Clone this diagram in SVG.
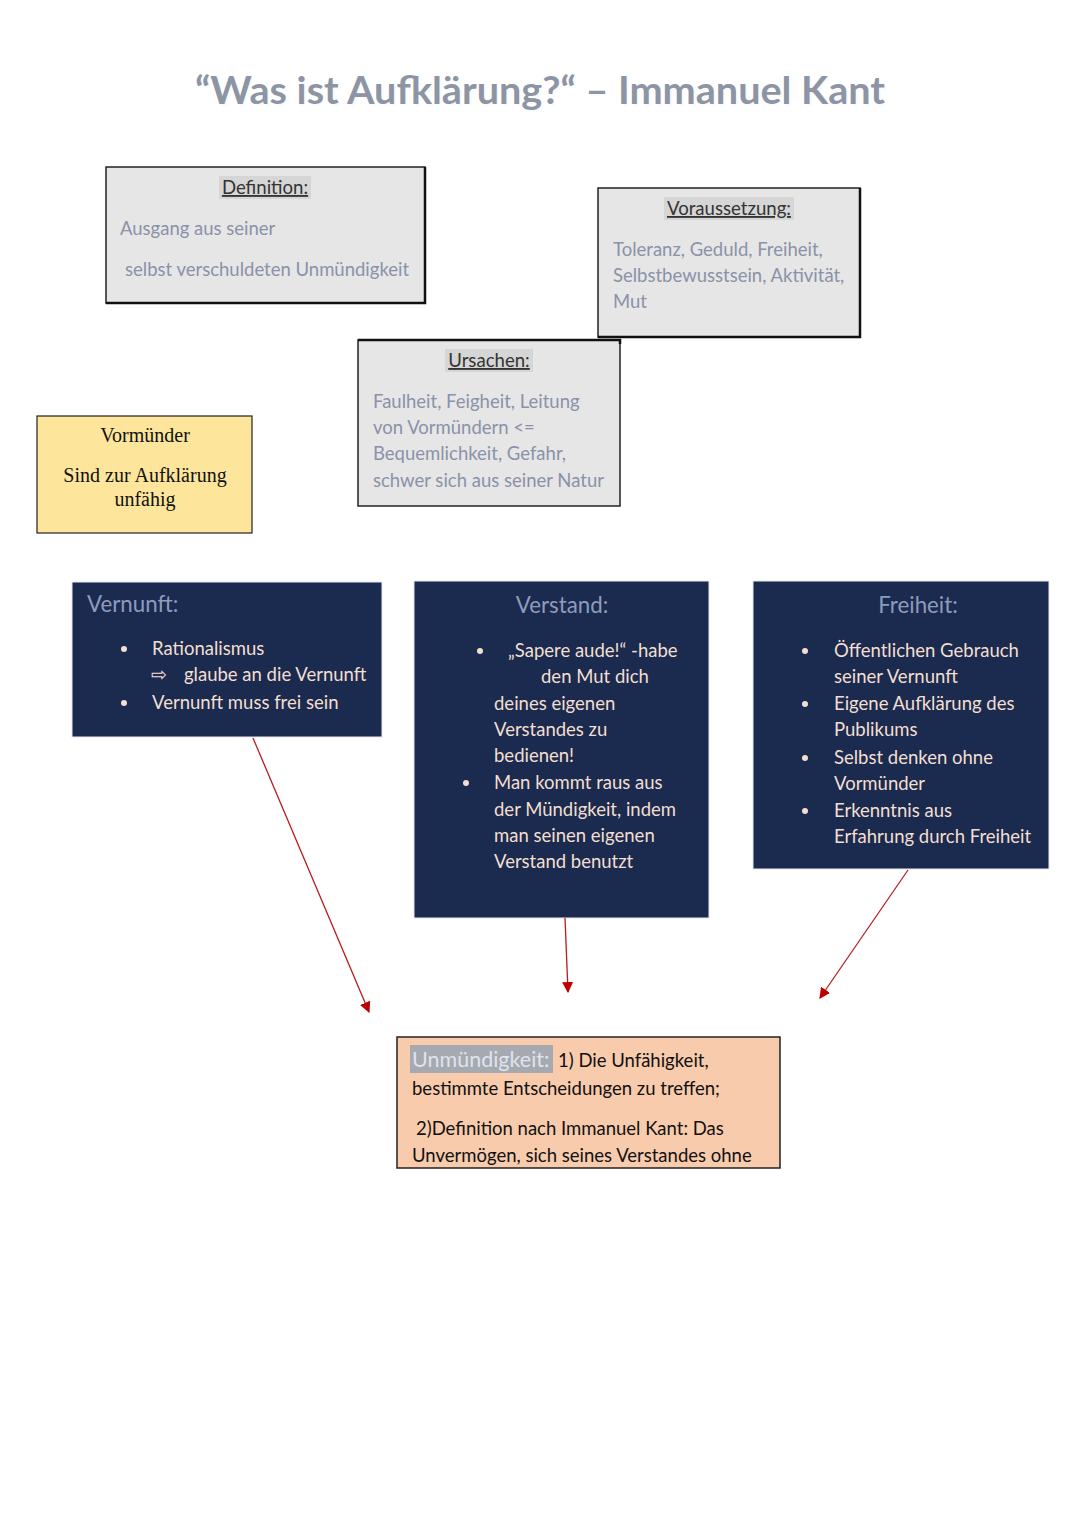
<svg xmlns="http://www.w3.org/2000/svg" width="1080" height="1527" viewBox="0 0 1080 1527">
<defs>
<style>
.sans{font-family:Lato,"Open Sans","Noto Sans",sans-serif}
.serif{font-family:"Liberation Serif","DejaVu Serif",serif}
.gbox{fill:#e6e6e6;stroke:#222;stroke-width:1.5}
.gshadow{fill:none;stroke:#111;stroke-width:2.5}
.head{font-size:18.6px;fill:#333;text-decoration:underline}
.hbg{fill:#d6d6d6}
.gtxt{font-size:18.5px;fill:#8a92a8}
.dbox{fill:#1b2a4f;stroke:#e8e8ef;stroke-width:1}
.dtitle{font-size:22.3px;fill:#8d9cbd}
.dtxt{font-size:18.5px;fill:#f2dfcf}
.bul{fill:#f2dfcf}
.arrow{stroke:#b81c1c;stroke-width:1.3;fill:none;marker-end:url(#ah)}
.otxt{font-size:18.5px;fill:#111}
</style>
<marker id="ah" viewBox="0 0 10 10" refX="9" refY="5" markerWidth="11" markerHeight="11" markerUnits="userSpaceOnUse" orient="auto">
<path d="M0,0 L10,5 L0,10 z" fill="#c00000"/>
</marker>
<clipPath id="uclip"><rect x="398" y="1038" width="381" height="129"/></clipPath>
</defs>
<rect width="1080" height="1527" fill="#ffffff"/>

<g id="title">
<text x="541" y="105" text-anchor="middle" class="sans" font-size="38" font-weight="bold" fill="#fbfbfd" textLength="690" lengthAdjust="spacingAndGlyphs" transform="translate(1,1)">“Was ist Aufklärung?“ – Immanuel Kant</text>
<text x="540" y="104" text-anchor="middle" class="sans" font-size="38" font-weight="bold" fill="#8d95a5" textLength="690" lengthAdjust="spacingAndGlyphs">“Was ist Aufklärung?“ – Immanuel Kant</text>
</g>

<g id="definition">
<rect x="106" y="167" width="319" height="136" class="gbox"/>
<path d="M106,303 H425 V167" class="gshadow"/>
<rect x="219" y="176" width="92" height="23" class="hbg"/>
<text x="265" y="194" text-anchor="middle" class="sans head">Definition:</text>
<text x="120" y="235" class="sans gtxt">Ausgang aus seiner</text>
<text x="125" y="276" class="sans gtxt">selbst verschuldeten Unmündigkeit</text>
</g>

<g id="voraussetzung">
<rect x="598" y="188" width="262" height="149" class="gbox"/>
<path d="M598,337 H860 V188" class="gshadow"/>
<rect x="664" y="197" width="130" height="23" class="hbg"/>
<text x="729" y="215" text-anchor="middle" class="sans head">Voraussetzung:</text>
<text x="613" y="256" class="sans gtxt">Toleranz, Geduld, Freiheit,</text>
<text x="613" y="282" class="sans gtxt">Selbstbewusstsein, Aktivität,</text>
<text x="613" y="308" class="sans gtxt">Mut</text>
</g>

<g id="ursachen">
<rect x="358" y="340" width="262" height="166" class="gbox"/>
<path d="M358,340 H620 V344" class="gshadow"/>
<rect x="445" y="349" width="88" height="23" class="hbg"/>
<text x="489" y="367" text-anchor="middle" class="sans head">Ursachen:</text>
<text x="373" y="408" class="sans gtxt">Faulheit, Feigheit, Leitung</text>
<text x="373" y="434" class="sans gtxt">von Vormündern &lt;=</text>
<text x="373" y="460" class="sans gtxt">Bequemlichkeit, Gefahr,</text>
<text x="373" y="487" class="sans gtxt">schwer sich aus seiner Natur</text>
</g>

<g id="vormuender">
<rect x="37" y="416" width="215" height="117" fill="#fde69b" stroke="#222" stroke-width="1.2"/>
<text x="145" y="442" text-anchor="middle" class="serif" font-size="20" fill="#111">Vormünder</text>
<text x="145" y="482" text-anchor="middle" class="serif" font-size="20" fill="#111">Sind zur Aufklärung</text>
<text x="145" y="506" text-anchor="middle" class="serif" font-size="20" fill="#111">unfähig</text>
</g>

<g id="vernunft">
<rect x="72" y="582" width="310" height="155" class="dbox"/>
<text x="87" y="612" class="sans dtitle">Vernunft:</text>
<circle cx="124" cy="649" r="3" class="bul"/>
<text x="152" y="655" class="sans dtxt">Rationalismus</text>
<text x="151" y="681" class="sans dtxt" font-size="17">⇨</text>
<text x="184" y="681" class="sans dtxt">glaube an die Vernunft</text>
<circle cx="124" cy="703" r="3" class="bul"/>
<text x="152" y="709" class="sans dtxt">Vernunft muss frei sein</text>
</g>

<g id="verstand">
<rect x="414" y="581" width="295" height="337" class="dbox"/>
<text x="562" y="613" text-anchor="middle" class="sans dtitle">Verstand:</text>
<circle cx="480" cy="651" r="3" class="bul"/>
<text x="508" y="657" class="sans dtxt">„Sapere aude!“ -habe</text>
<text x="541" y="683" class="sans dtxt">den Mut dich</text>
<text x="494" y="710" class="sans dtxt">deines eigenen</text>
<text x="494" y="736" class="sans dtxt">Verstandes zu</text>
<text x="494" y="762" class="sans dtxt">bedienen!</text>
<circle cx="466" cy="783" r="3" class="bul"/>
<text x="494" y="789" class="sans dtxt">Man kommt raus aus</text>
<text x="494" y="816" class="sans dtxt">der Mündigkeit, indem</text>
<text x="494" y="842" class="sans dtxt">man seinen eigenen</text>
<text x="494" y="868" class="sans dtxt">Verstand benutzt</text>
</g>

<g id="freiheit">
<rect x="753" y="581" width="296" height="288" class="dbox"/>
<text x="918" y="613" text-anchor="middle" class="sans dtitle">Freiheit:</text>
<circle cx="805" cy="651" r="3" class="bul"/>
<text x="834" y="657" class="sans dtxt">Öffentlichen Gebrauch</text>
<text x="834" y="683" class="sans dtxt">seiner Vernunft</text>
<circle cx="805" cy="704" r="3" class="bul"/>
<text x="834" y="710" class="sans dtxt">Eigene Aufklärung des</text>
<text x="834" y="736" class="sans dtxt">Publikums</text>
<circle cx="805" cy="758" r="3" class="bul"/>
<text x="834" y="764" class="sans dtxt">Selbst denken ohne</text>
<text x="834" y="790" class="sans dtxt">Vormünder</text>
<circle cx="805" cy="811" r="3" class="bul"/>
<text x="834" y="817" class="sans dtxt">Erkenntnis aus</text>
<text x="834" y="843" class="sans dtxt">Erfahrung durch Freiheit</text>
</g>

<g id="connectors">
<line x1="253" y1="738" x2="369" y2="1012" class="arrow"/>
<line x1="565" y1="918" x2="568" y2="992" class="arrow"/>
<line x1="908" y1="870" x2="820" y2="998" class="arrow"/>
</g>

<g id="unmuendigkeit">
<rect x="397" y="1037" width="383" height="131" fill="#f8cbad" stroke="#222" stroke-width="1.5"/>
<g clip-path="url(#uclip)">
<rect x="410" y="1045" width="143" height="28" fill="#a6a9b0"/>
<text x="412" y="1067" class="sans" font-size="21.5" fill="#dfe3ee">Unmündigkeit:</text>
<text x="558" y="1067" class="sans otxt">1) Die Unfähigkeit,</text>
<text x="412" y="1095" class="sans otxt">bestimmte Entscheidungen zu treffen;</text>
<text x="416" y="1135" class="sans otxt">2)Definition nach Immanuel Kant: Das</text>
<text x="412" y="1162" class="sans otxt">Unvermögen, sich seines Verstandes ohne</text>
</g>
</g>
</svg>
